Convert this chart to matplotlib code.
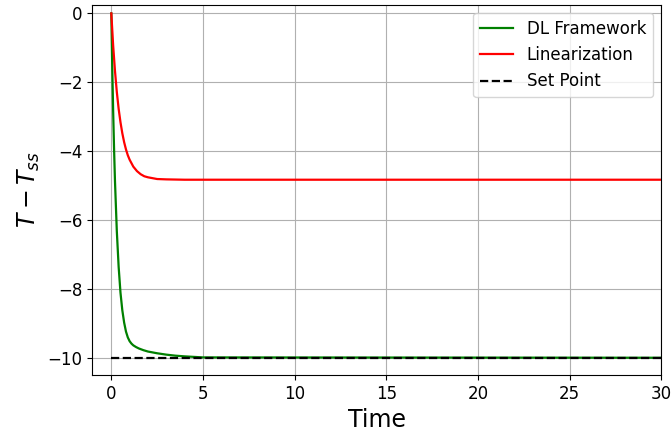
import matplotlib
matplotlib.use("Agg")
import matplotlib.pyplot as plt

# DL Framework response
t_dl = [0, 0.05, 0.1, 0.15, 0.2, 0.3, 0.4, 0.5, 0.6, 0.7, 0.8, 0.9, 1.0, 1.1,
        1.2, 1.35, 1.5, 1.75, 2.0, 2.5, 3.0, 3.5, 4.0, 5.0, 30]
y_dl = [0, -1.54, -2.83, -3.93, -4.87, -6.32, -7.36, -8.11, -8.62, -8.98, -9.24,
        -9.41, -9.52, -9.59, -9.64, -9.69, -9.73, -9.78, -9.82, -9.87, -9.91,
        -9.94, -9.96, -9.99, -10.0]

# Linearization response
t_lin = [0, 0.1, 0.2, 0.3, 0.4, 0.5, 0.6, 0.7, 0.8, 0.9, 1.0, 1.2, 1.4, 1.6,
         1.8, 2.0, 2.5, 3.0, 4.0, 30]
y_lin = [0, -0.93, -1.67, -2.28, -2.77, -3.16, -3.48, -3.74, -3.95, -4.12, -4.25,
         -4.45, -4.58, -4.67, -4.73, -4.76, -4.81, -4.82, -4.83, -4.83]

# Set point
t_sp = [0, 30]
y_sp = [-10, -10]

fig = plt.figure(figsize=(6.72, 4.36), dpi=100)
ax = fig.add_axes([0.137, 0.140, 0.847, 0.849])

ax.plot(t_dl, y_dl, color="green", lw=1.6, label="DL Framework")
ax.plot(t_lin, y_lin, color="red", lw=1.6, label="Linearization")
ax.plot(t_sp, y_sp, "k--", lw=1.6, label="Set Point")

ax.set_xlim(-1.05, 30)
ax.set_ylim(-10.5, 0.25)
ax.set_xticks([0, 5, 10, 15, 20, 25, 30])
ax.set_yticks([0, -2, -4, -6, -8, -10])
ax.tick_params(labelsize=12)
ax.grid(True)
ax.set_xlabel("Time", fontsize=17)
ax.set_ylabel(r"$T - T_{ss}$", fontsize=17)
ax.legend(loc="upper right", fontsize=12)

fig.savefig("out.png", dpi=100)
